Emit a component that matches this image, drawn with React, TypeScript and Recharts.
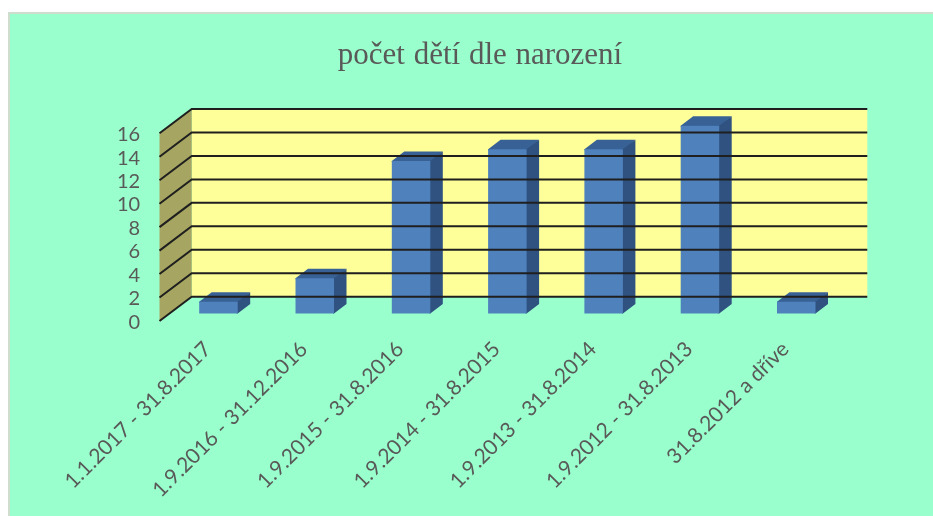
import { Bar, ComposedChart, ReferenceArea, ReferenceLine, XAxis, YAxis } from "recharts";

const categories = [
  "1.1.2017 - 31.8.2017",
  "1.9.2016 - 31.12.2016",
  "1.9.2015 - 31.8.2016",
  "1.9.2014 - 31.8.2015",
  "1.9.2013 - 31.8.2014",
  "1.9.2012 - 31.8.2013",
  "31.8.2012 a dříve",
];
const counts = [1, 3, 13, 14, 14, 16, 1];
const yTicks = [0, 2, 4, 6, 8, 10, 12, 14, 16];

const rows = categories.map((name, i) => ({ name, count: counts[i] }));

const TEXT = "#595959";
const FONT = "Lato, sans-serif";

// fake 3D: the bars sit in the plot plane, the wall is pushed back and the axis forward
const BACK_DX = 21.5;
const BACK_DY = -16.8;
const BACK_RIGHT_DX = 23;
const FRONT_DX = -10.7;
const FRONT_DY = 7.5;
const BAR_DX = 12.5;
const BAR_DY = -9.5;

function Walls({ x, y, width, height }: any) {
  const bx = x + BACK_DX;
  const rx = x + width + BACK_RIGHT_DX;
  const fx = x + FRONT_DX;
  const top = y + BACK_DY;
  const bottom = y + height + BACK_DY;
  return (
    <g>
      <rect x={bx} y={top} width={rx - bx} height={height} fill="#FFFF99" />
      <polygon
        points={`${fx},${y + FRONT_DY} ${bx},${top} ${bx},${bottom} ${fx},${y + height + FRONT_DY}`}
        fill="#A6A662"
      />
    </g>
  );
}

function GridLine({ x1, y1, x2, y2 }: any) {
  const by = y1 + BACK_DY;
  const bx = x1 + BACK_DX;
  return (
    <polyline
      points={`${x1 + FRONT_DX},${y1 + FRONT_DY} ${bx},${by} ${x2 + BACK_RIGHT_DX},${y2 + BACK_DY}`}
      fill="none"
      stroke="#1f1f1f"
      strokeWidth={2}
    />
  );
}

function Bar3D({ x, y, width, height }: any) {
  const r = x + width;
  const b = y + height;
  return (
    <g>
      <polygon
        points={`${x},${y} ${x + BAR_DX},${y + BAR_DY} ${r + BAR_DX},${y + BAR_DY} ${r + 1},${y + 1} ${x},${y + 1}`}
        fill="#386195"
      />
      <polygon
        points={`${r - 1},${y} ${r},${y} ${r + BAR_DX},${y + BAR_DY} ${r + BAR_DX},${b + BAR_DY} ${r},${b} ${r - 1},${b}`}
        fill="#2F5280"
      />
      <rect x={x} y={y} width={width} height={height} fill="#4F81BD" />
    </g>
  );
}

function CategoryTick({ x, y, payload }: any) {
  return (
    <text
      transform={`rotate(-45 ${x - 6} ${y + 9})`}
      x={x - 6}
      y={y + 9}
      textAnchor="end"
      fontFamily={FONT}
      fontSize={21}
      fill={TEXT}
    >
      {payload.value}
    </text>
  );
}

function ValueTick({ x, y, payload }: any) {
  return (
    <text x={x} y={y + FRONT_DY + 7.8} textAnchor="end" fontFamily={FONT} fontSize={20} fill={TEXT}>
      {payload.value}
    </text>
  );
}

export default function App() {
  return (
    <div
      style={{
        position: "absolute",
        left: 8,
        top: 12,
        width: 925,
        height: 504,
        boxSizing: "border-box",
        background: "#99FFCC",
        borderLeft: "2px solid #CFDDCF",
        borderTop: "2px solid #CFDDCF",
        overflow: "hidden",
      }}
    >
      <div style={{ position: "absolute", left: -2, top: -2, filter: "blur(0.7px)" }}>
        <div
          style={{
            position: "absolute",
            left: 0,
            width: 944,
            top: 24,
            textAlign: "center",
            fontFamily: "'Liberation Serif', serif",
            fontSize: 31,
            wordSpacing: 1,
            color: TEXT,
          }}
        >
          počet dětí dle narození
        </div>
        <ComposedChart
          width={919}
          height={504}
          data={rows}
          margin={{ top: 113.8, right: 82.7, bottom: 102.5, left: 0 }}
        >
          <XAxis
            dataKey="name"
            interval={0}
            height={100}
            axisLine={false}
            tickLine={false}
            tickSize={0}
            tickMargin={28}
            tick={<CategoryTick />}
          />
          <YAxis
            width={162.2}
            domain={[0, 16]}
            ticks={yTicks}
            axisLine={false}
            tickLine={false}
            tickSize={0}
            tickMargin={30}
            tick={<ValueTick />}
          />
          <ReferenceArea y1={0} y2={16} ifOverflow="visible" shape={<Walls />} />
          {yTicks.map((t) => (
            <ReferenceLine key={t} y={t} ifOverflow="visible" shape={<GridLine />} />
          ))}
          <Bar dataKey="count" barSize={38.5} shape={<Bar3D />} isAnimationActive={false} />
        </ComposedChart>
      </div>
    </div>
  );
}
